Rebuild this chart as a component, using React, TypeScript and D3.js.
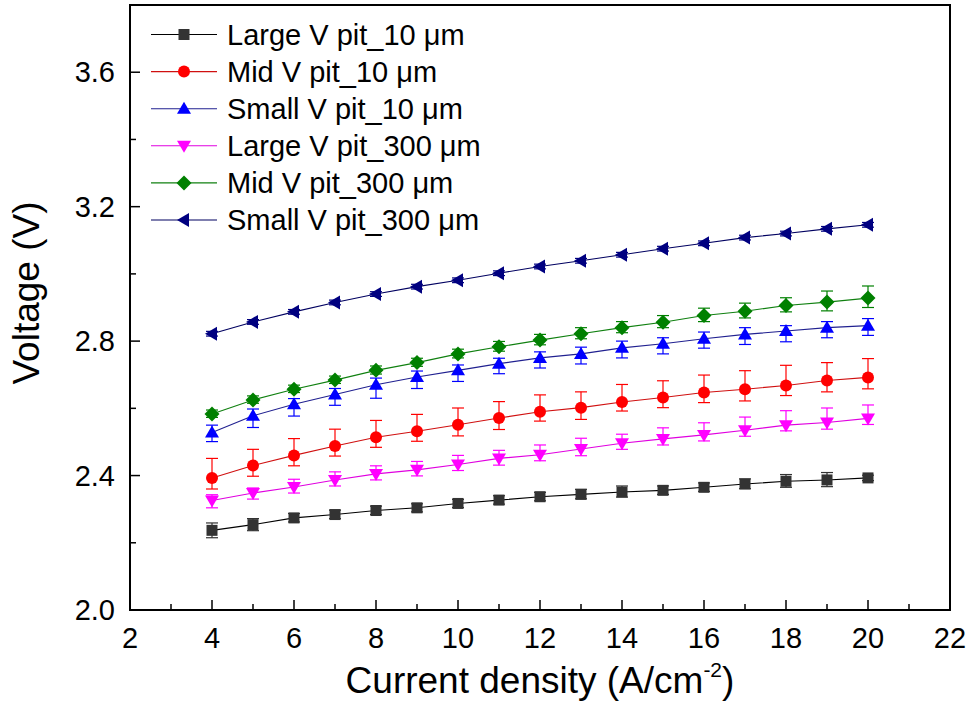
import React from "react";
import * as d3 from "d3";

const xValues = [4, 5, 6, 7, 8, 9, 10, 11, 12, 13, 14, 15, 16, 17, 18, 19, 20];

const seriesNames = [
  "Large V pit_10 \u03bcm",
  "Mid V pit_10 \u03bcm",
  "Small V pit_10 \u03bcm",
  "Large V pit_300 \u03bcm",
  "Mid V pit_300 \u03bcm",
  "Small V pit_300 \u03bcm",
];

const largeV10 = [2.237, 2.254, 2.274, 2.284, 2.296, 2.304, 2.317, 2.327, 2.337, 2.344, 2.351, 2.356, 2.365, 2.375, 2.383, 2.387, 2.393];
const midV10 = [2.393, 2.43, 2.46, 2.488, 2.514, 2.532, 2.551, 2.571, 2.59, 2.602, 2.619, 2.632, 2.647, 2.657, 2.668, 2.683, 2.692];
const smallV10 = [2.528, 2.578, 2.612, 2.641, 2.67, 2.693, 2.713, 2.733, 2.75, 2.762, 2.78, 2.792, 2.807, 2.82, 2.83, 2.84, 2.846];
const largeV300 = [2.326, 2.348, 2.366, 2.387, 2.405, 2.417, 2.433, 2.451, 2.462, 2.479, 2.496, 2.509, 2.521, 2.535, 2.55, 2.558, 2.57];
const midV300 = [2.583, 2.625, 2.657, 2.684, 2.713, 2.736, 2.762, 2.783, 2.803, 2.822, 2.84, 2.856, 2.876, 2.889, 2.906, 2.916, 2.928];
const smallV300 = [2.822, 2.857, 2.887, 2.915, 2.94, 2.962, 2.981, 3.002, 3.022, 3.039, 3.057, 3.075, 3.091, 3.108, 3.12, 3.134, 3.146];

const largeV10ErrUp = [0.022, 0.018, 0.013, 0.013, 0.013, 0.012, 0.012, 0.013, 0.013, 0.015, 0.018, 0.013, 0.013, 0.015, 0.02, 0.022, 0.008];
const largeV10ErrDown = [0.022, 0.018, 0.012, 0.012, 0.012, 0.012, 0.012, 0.012, 0.012, 0.013, 0.015, 0.012, 0.012, 0.014, 0.018, 0.02, 0.008];
const midV10ErrUp = [0.058, 0.048, 0.05, 0.05, 0.05, 0.05, 0.05, 0.049, 0.05, 0.047, 0.052, 0.05, 0.052, 0.055, 0.06, 0.053, 0.056];
const midV10ErrDown = [0.033, 0.032, 0.031, 0.03, 0.03, 0.03, 0.033, 0.034, 0.028, 0.035, 0.027, 0.03, 0.03, 0.035, 0.03, 0.034, 0.034];
const smallV10ErrUp = [0.022, 0.02, 0.017, 0.018, 0.02, 0.018, 0.016, 0.016, 0.018, 0.02, 0.02, 0.018, 0.02, 0.02, 0.016, 0.018, 0.021];
const smallV10ErrDown = [0.027, 0.035, 0.035, 0.032, 0.04, 0.034, 0.033, 0.03, 0.03, 0.03, 0.03, 0.03, 0.028, 0.03, 0.032, 0.03, 0.029];
const largeV300ErrUp = [0.017, 0.015, 0.023, 0.024, 0.024, 0.025, 0.027, 0.024, 0.029, 0.032, 0.027, 0.033, 0.036, 0.039, 0.043, 0.043, 0.04];
const largeV300ErrDown = [0.022, 0.018, 0.018, 0.018, 0.018, 0.018, 0.018, 0.02, 0.018, 0.02, 0.018, 0.018, 0.018, 0.018, 0.017, 0.02, 0.018];
const midV300ErrUp = [0.012, 0.012, 0.012, 0.012, 0.013, 0.013, 0.014, 0.016, 0.017, 0.018, 0.018, 0.02, 0.022, 0.024, 0.023, 0.033, 0.036];
const midV300ErrDown = [0.01, 0.01, 0.01, 0.01, 0.011, 0.011, 0.012, 0.013, 0.014, 0.015, 0.015, 0.016, 0.018, 0.02, 0.019, 0.026, 0.028];
const smallV300ErrUp = [0.007, 0.007, 0.007, 0.007, 0.007, 0.007, 0.007, 0.007, 0.007, 0.007, 0.007, 0.007, 0.007, 0.007, 0.007, 0.007, 0.007];
const smallV300ErrDown = [0.007, 0.007, 0.007, 0.007, 0.007, 0.007, 0.007, 0.007, 0.007, 0.007, 0.007, 0.007, 0.007, 0.007, 0.007, 0.007, 0.007];

const xMajorTicks = [2, 4, 6, 8, 10, 12, 14, 16, 18, 20, 22];
const xMinorTicks = [3, 5, 7, 9, 11, 13, 15, 17, 19, 21];
const yMajorTicks = [2.0, 2.4, 2.8, 3.2, 3.6];
const yMinorTicks = [2.2, 2.6, 3.0, 3.4];
const yTickLabels = ["2.0", "2.4", "2.8", "3.2", "3.6"];

const FONT = "'Liberation Sans', Arial, Helvetica, sans-serif";

type Shape = "square" | "circle" | "triUp" | "triDown" | "diamond" | "triLeft";

const styles: { color: string; line: string; shape: Shape }[] = [
  { color: "#333333", line: "#000000", shape: "square" },
  { color: "#ff0000", line: "#d01010", shape: "circle" },
  { color: "#0000ff", line: "#202090", shape: "triUp" },
  { color: "#ff00ff", line: "#e000e0", shape: "triDown" },
  { color: "#008000", line: "#108010", shape: "diamond" },
  { color: "#000080", line: "#000060", shape: "triLeft" },
];

const seriesValues = [largeV10, midV10, smallV10, largeV300, midV300, smallV300];
const seriesErrUp = [largeV10ErrUp, midV10ErrUp, smallV10ErrUp, largeV300ErrUp, midV300ErrUp, smallV300ErrUp];
const seriesErrDown = [largeV10ErrDown, midV10ErrDown, smallV10ErrDown, largeV300ErrDown, midV300ErrDown, smallV300ErrDown];

function Marker({ shape, x, y, color }: { shape: Shape; x: number; y: number; color: string }) {
  switch (shape) {
    case "square":
      return <rect x={x - 5.5} y={y - 5.5} width={11} height={11} fill={color} />;
    case "circle":
      return <circle cx={x} cy={y} r={6} fill={color} />;
    case "triUp":
      return <path d={`M${x},${y - 7}L${x + 7},${y + 5}L${x - 7},${y + 5}Z`} fill={color} />;
    case "triDown":
      return <path d={`M${x},${y + 7}L${x + 7},${y - 5}L${x - 7},${y - 5}Z`} fill={color} />;
    case "diamond":
      return <path d={`M${x},${y - 7.5}L${x + 7.5},${y}L${x},${y + 7.5}L${x - 7.5},${y}Z`} fill={color} />;
    case "triLeft":
      return <path d={`M${x - 7},${y}L${x + 5},${y - 7}L${x + 5},${y + 7}Z`} fill={color} />;
  }
  return null;
}

export default function App() {
  const width = 973;
  const height = 716;
  const left = 130, right = 950, top = 5, bottom = 610;
  const x = d3.scaleLinear().domain([2, 22]).range([left, right]);
  const y = d3.scaleLinear().domain([2.0, 3.8]).range([bottom, top]);
  const line = d3
    .line<number>()
    .x((_, i) => x(xValues[i]))
    .y((d) => y(d));

  const legendRowY = (i: number) => 34.5 + i * 37.1;

  return (
    <svg
      width={width}
      height={height}
      style={{ position: "absolute", left: 0, top: 0, background: "#fff" }}
      fontFamily={FONT}
    >
      <rect x={0} y={0} width={width} height={height} fill="#fff" />
      {/* series */}
      {seriesValues.map((vals, s) => (
        <g key={s}>
          <path d={line(vals) || ""} fill="none" stroke={styles[s].line} strokeWidth={1.1} />
          {vals.map((v, i) => {
            const cx = x(xValues[i]);
            const yTop = y(v + seriesErrUp[s][i]);
            const yBot = y(v - seriesErrDown[s][i]);
            return (
              <g key={i} stroke={styles[s].color} strokeWidth={1.2}>
                <line x1={cx} x2={cx} y1={yTop} y2={yBot} />
                <line x1={cx - 6} x2={cx + 6} y1={yTop} y2={yTop} />
                <line x1={cx - 6} x2={cx + 6} y1={yBot} y2={yBot} />
              </g>
            );
          })}
          {vals.map((v, i) => (
            <Marker key={i} shape={styles[s].shape} x={x(xValues[i])} y={y(v)} color={styles[s].color} />
          ))}
        </g>
      ))}

      {/* frame */}
      <rect x={left} y={top} width={right - left} height={bottom - top} fill="none" stroke="#000" strokeWidth={2} />

      {/* x ticks */}
      {xMajorTicks.map((t) => (
        <g key={"xM" + t}>
          <line x1={x(t)} x2={x(t)} y1={bottom} y2={bottom - 10} stroke="#000" strokeWidth={1.5} />
          <text x={x(t)} y={648} textAnchor="middle" fontSize={29} fill="#000">
            {t}
          </text>
        </g>
      ))}
      {xMinorTicks.map((t) => (
        <line key={"xm" + t} x1={x(t)} x2={x(t)} y1={bottom} y2={bottom - 6} stroke="#000" strokeWidth={1.5} />
      ))}

      {/* y ticks */}
      {yMajorTicks.map((t, i) => (
        <g key={"yM" + t}>
          <line x1={left} x2={left + 10} y1={y(t)} y2={y(t)} stroke="#000" strokeWidth={1.5} />
          <text x={115} y={y(t) + 10} textAnchor="end" fontSize={29} fill="#000">
            {yTickLabels[i]}
          </text>
        </g>
      ))}
      {yMinorTicks.map((t) => (
        <line key={"ym" + t} x1={left} x2={left + 6} y1={y(t)} y2={y(t)} stroke="#000" strokeWidth={1.5} />
      ))}

      {/* axis titles */}
      <text x={(left + right) / 2} y={693} textAnchor="middle" fontSize={37} fill="#000">
        Current density (A/cm
        <tspan dy={-16} fontSize={21}>-2</tspan>
        <tspan dy={16}>)</tspan>
      </text>
      <text transform="translate(39,293) rotate(-90)" textAnchor="middle" fontSize={37} fill="#000">
        Voltage (V)
      </text>

      {/* legend */}
      {seriesNames.map((name, i) => (
        <g key={"leg" + i}>
          <line x1={151} x2={217} y1={legendRowY(i)} y2={legendRowY(i)} stroke={styles[i].line} strokeWidth={1.1} />
          <Marker shape={styles[i].shape} x={184} y={legendRowY(i)} color={styles[i].color} />
          <text x={227} y={legendRowY(i) + 10} fontSize={29} fill="#000">
            {name}
          </text>
        </g>
      ))}
    </svg>
  );
}
